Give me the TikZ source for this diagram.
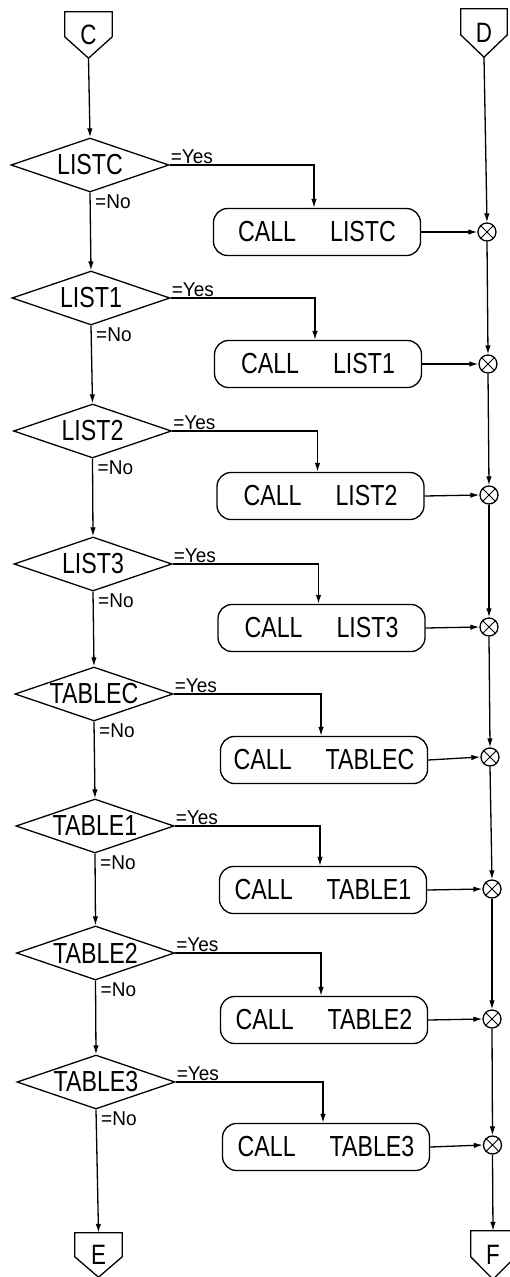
\documentclass[tikz,border=0pt]{standalone}
\usepackage{fontspec}
\setmainfont{Liberation Sans}[FakeStretch=0.8]
\newfontfamily\labfont{Liberation Sans}[FakeStretch=0.95]
\usetikzlibrary{shapes.geometric,arrows.meta,calc}
\begin{document}
\begin{tikzpicture}[x=1pt,y=-1pt,
  line/.style={line width=1.3pt},
  arr/.style={line, -{Latex[length=9pt,width=5.5pt]}},
  dec/.style={diamond, draw, line width=1.3pt, minimum width=158pt, minimum height=54pt, inner sep=0pt, aspect=2.9, font=\fontsize{29}{29}\selectfont},
  call/.style={rectangle, draw, line width=1.3pt, rounded corners=14pt, minimum width=207pt, minimum height=47pt, inner sep=0pt, font=\fontsize{29}{29}\selectfont},
  sum/.style={circle, draw, line width=1.3pt, minimum size=18pt, inner sep=0pt},
  conn/.style={inner sep=0pt, font=\fontsize{28}{28}\selectfont},
  lab/.style={font=\labfont\fontsize{20}{20}\selectfont, inner sep=1pt}]
\fill[white] (0,0) rectangle (510,1277);
\useasboundingbox (0,0) rectangle (510,1277);

% off-page connectors
\node[conn, minimum width=47pt, minimum height=46pt] (C) at (88.5,35) {C};
\node[conn, minimum width=46pt, minimum height=48pt] (D) at (484,33) {D};
\node[conn, minimum width=47pt, minimum height=44pt] (E) at (98.5,1255) {E};
\node[conn, minimum width=44pt, minimum height=48pt] (F) at (493,1255) {F};
\foreach \n in {C,D,E,F}{
  \draw[line] (\n.north west) -- (\n.north east) -- ($(\n.north east)!0.54!(\n.south east)$)
    -- (\n.south) -- ($(\n.north west)!0.54!(\n.south west)$) -- cycle;
}

% rows
\foreach \i/\dx/\dy/\t/\bx/\by/\mx/\my in {
  1/90/165/LISTC/317/232/487/232,
  2/91/298/LIST1/318/364/488/364,
  3/92.5/431/LIST2/320.5/496/489/495,
  4/93/564/LIST3/321.5/628/489/627,
  5/94/694/TABLEC/324/760/490/757,
  6/95/826/TABLE1/323/890/492/889,
  7/95.5/953/TABLE2/324/1020/492/1019,
  8/96/1082/TABLE3/326/1147/492.5/1145}{
  \node[dec] (d\i) at (\dx,\dy) {\t};
  \node[call] (b\i) at (\bx,\by) {CALL\hspace{34pt}\t};
  \node[sum] (m\i) at (\mx,\my) {};
  \draw[line width=1pt] (m\i.north west) -- (m\i.south east) (m\i.north east) -- (m\i.south west);
  \node[lab, anchor=south west] (y\i) at (d\i.east) {=Yes};
  \node[lab, anchor=north west, xshift=4pt, yshift=-1pt] (n\i) at (d\i.south) {=No};
  \draw[arr] (d\i.east) -| ([xshift=-3pt]b\i.north);
  \draw[arr] (b\i.east) -- (m\i.west);
}

% vertical flows
\draw[arr] (C.south) -- (d1.north);
\draw[arr] (D.south) -- (m1.north);
\foreach \i in {1,...,7}{
  \pgfmathtruncatemacro\j{\i+1}
  \draw[arr] (d\i.south) -- (d\j.north);
  \draw[arr] (m\i.south) -- (m\j.north);
}
\draw[arr] (d8.south) -- (E.north);
\draw[arr] (m8.south) -- (F.north);
\end{tikzpicture}
\end{document}
